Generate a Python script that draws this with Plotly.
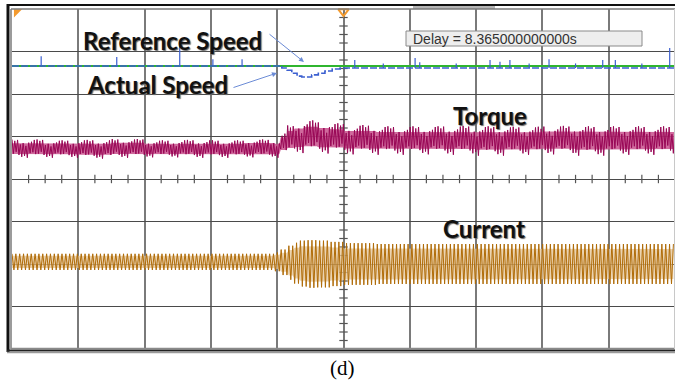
import numpy as np
import plotly.graph_objects as go

# Oscilloscope screen: 10 horizontal divisions, 8 vertical divisions
# ---- Speed traces (divisions) ----
ref_speed_x = [0.0, 10.0]
ref_speed_y = [6.66, 6.66]

act_speed_x = [0.0, 4.00, 4.07, 4.15, 4.22, 4.30, 4.37, 4.45, 4.52, 4.62, 4.72, 4.83, 4.95, 10.0]
act_speed_y = [6.66, 6.66, 6.61, 6.56, 6.49, 6.42, 6.40, 6.40, 6.45, 6.49, 6.54, 6.59, 6.61, 6.61]

spike_x = [0.44, 1.58, 2.53, 3.03, 3.47, 5.17, 5.60, 6.08, 6.15, 6.70, 7.21, 7.36, 7.51, 7.80,
           8.10, 8.50, 8.91, 9.10, 9.50, 9.92]
spike_y = [6.89, 6.87, 7.13, 6.82, 6.82, 6.80, 6.72, 6.85, 6.75, 6.72, 6.80, 6.76, 6.80, 6.72,
           6.82, 6.72, 6.80, 6.80, 6.72, 7.08]

# ---- Torque band (divisions), piecewise segments starting at torque_x ----
torque_x  = [0.0, 0.5, 1.0, 1.5, 2.0, 2.5, 3.0, 3.5, 3.95, 4.05, 4.15, 4.25, 4.40, 4.60,
             4.80, 5.00, 5.50, 6.00, 6.50, 7.00, 7.50, 8.00, 8.50, 9.00, 9.50]
torque_hi = [4.93, 4.91, 4.92, 4.94, 4.91, 4.92, 4.91, 4.93, 4.91, 5.08, 5.26, 5.33, 5.38, 5.35,
             5.31, 5.27, 5.24, 5.24, 5.25, 5.24, 5.23, 5.25, 5.24, 5.24, 5.24]
torque_lo = [4.50, 4.50, 4.48, 4.50, 4.51, 4.50, 4.50, 4.51, 4.50, 4.58, 4.60, 4.61, 4.62, 4.60,
             4.60, 4.58, 4.57, 4.58, 4.57, 4.55, 4.57, 4.58, 4.55, 4.57, 4.57]
torque_texture = [1.0, 0.55, 0.85, 0.35, 0.95, 0.7, 0.45, 0.9, 0.6, 0.8, 0.3, 1.0, 0.65, 0.5, 0.75,
                  0.4, 0.95, 0.6]
torque_half_period = 0.021

# ---- Current envelope (divisions), piecewise segments starting at current_x ----
current_x   = [0.0, 3.95, 4.05, 4.15, 4.25, 4.35, 4.45, 4.60, 4.80, 5.00, 5.50]
current_mid = [2.05, 2.05, 2.04, 2.03, 2.02, 2.01, 2.00, 2.00, 2.00, 2.00, 2.00]
current_amp = [0.19, 0.22, 0.30, 0.40, 0.48, 0.54, 0.56, 0.55, 0.52, 0.49, 0.47]
current_half_period = 0.029

# ---- build traces ----
def seg_index(xs, bounds):
    return np.clip(np.searchsorted(bounds, xs, side="right") - 1, 0, len(bounds) - 1)

# torque zigzag
tq_t = np.arange(0, 10.0001, torque_half_period)
ti = seg_index(tq_t, np.array(torque_x))
hi = np.array(torque_hi)[ti]
lo = np.array(torque_lo)[ti]
mid = (hi + lo) / 2
half = (hi - lo) / 2
sign = np.where(np.arange(len(tq_t)) % 2 == 0, 1, -1)
tex = np.array(torque_texture)[np.arange(len(tq_t)) % len(torque_texture)]
tq_y = mid + sign * tex * half

# current zigzag
cu_t = np.arange(0, 10.0001, current_half_period)
ci = seg_index(cu_t, np.array(current_x))
cmid = np.array(current_mid)[ci]
camp = np.array(current_amp)[ci]
csign = np.where(np.arange(len(cu_t)) % 2 == 0, 1, -1)
cu_y = cmid + csign * camp

# spikes
sx, sy = [], []
for x, y in zip(spike_x, spike_y):
    base = 6.66 if x < 4.0 else 6.61
    sx += [x, x, None]
    sy += [base, y, None]

fig = go.Figure()

# center-axis minor ticks
minor = np.arange(0.25, 10, 0.25)
minor = minor[np.abs(minor - np.round(minor)) > 0.05]
fig.add_trace(go.Scatter(x=minor, y=[4] * len(minor), mode="markers", hoverinfo="skip",
                         marker=dict(symbol="line-ns", size=6, line=dict(width=1.2, color="#555"))))
minor_y = np.arange(0.2, 8, 0.2)
minor_y = minor_y[np.abs(minor_y - np.round(minor_y)) > 0.05]
fig.add_trace(go.Scatter(x=[5] * len(minor_y), y=minor_y, mode="markers", hoverinfo="skip",
                         marker=dict(symbol="line-ew", size=6, line=dict(width=1.2, color="#555"))))

# torque band + trace
fig.add_trace(go.Scatter(x=tq_t, y=mid + 0.6 * half, mode="lines", line=dict(width=0), hoverinfo="skip"))
fig.add_trace(go.Scatter(x=tq_t, y=mid - 0.6 * half, mode="lines", line=dict(width=0),
                         fill="tonexty", fillcolor="rgba(200,80,140,0.85)", hoverinfo="skip"))
fig.add_trace(go.Scatter(x=tq_t, y=tq_y, mode="lines", line=dict(width=1, color="#980655")))

# current band + trace
fig.add_trace(go.Scatter(x=cu_t, y=cmid + 0.75 * camp, mode="lines", line=dict(width=0), hoverinfo="skip"))
fig.add_trace(go.Scatter(x=cu_t, y=cmid - 0.75 * camp, mode="lines", line=dict(width=0),
                         fill="tonexty", fillcolor="rgba(228,196,150,0.75)", hoverinfo="skip"))
fig.add_trace(go.Scatter(x=cu_t, y=cu_y, mode="lines", line=dict(width=1, color="#b06c08")))

# speeds
fig.add_trace(go.Scatter(x=ref_speed_x, y=ref_speed_y, mode="lines", line=dict(width=2, color="#2fb52f")))
fig.add_trace(go.Scatter(x=act_speed_x, y=act_speed_y, mode="lines", line_shape="hv",
                         line=dict(width=1.6, color="#3b5fd0", dash="7px,2px")))
fig.add_trace(go.Scatter(x=sx, y=sy, mode="lines", line=dict(width=1.2, color="#3b5fd0")))

# orange markers
fig.add_trace(go.Scatter(x=[0.07], y=[7.93], mode="markers", cliponaxis=False,
                         marker=dict(symbol="triangle-nw", size=9, color="#f39a2e")))
fig.add_trace(go.Scatter(x=[5.0], y=[7.94], mode="markers", cliponaxis=False,
                         marker=dict(symbol="triangle-down-open", size=9, color="#f39a2e",
                                     line=dict(width=2, color="#f39a2e"))))

W, H = 675, 383
L, R, T, B = 12, 0, 9, 34
pw, ph = W - L - R, H - T - B

def px(x):
    return (x - L) / pw

def py(y):
    return (H - B - y) / ph

shapes = [
    # top gray tab
    dict(type="rect", xref="paper", yref="paper", x0=px(413), x1=px(495), y0=py(9), y1=py(5),
         fillcolor="#b5b5b5", line=dict(width=0), layer="above"),
    # gray plot borders
    dict(type="line", xref="paper", yref="paper", x0=px(11), x1=px(11), y0=py(9), y1=py(349),
         line=dict(color="#7a7a7a", width=1.5)),
    dict(type="line", xref="paper", yref="paper", x0=px(11), x1=px(675), y0=py(9), y1=py(9),
         line=dict(color="#7a7a7a", width=1.5)),
    dict(type="line", xref="paper", yref="paper", x0=px(11), x1=px(675), y0=py(348.5), y1=py(348.5),
         line=dict(color="#8a8a8a", width=1.5)),
    dict(type="line", xref="paper", yref="paper", x0=px(674.5), x1=px(674.5), y0=py(9), y1=py(349),
         line=dict(color="#c8c8c8", width=1)),
    # black frame
    dict(type="line", xref="paper", yref="paper", x0=px(7), x1=px(675), y0=py(5), y1=py(5),
         line=dict(color="#111", width=2)),
    dict(type="line", xref="paper", yref="paper", x0=px(8), x1=px(8), y0=py(4), y1=py(352),
         line=dict(color="#111", width=3)),
    dict(type="line", xref="paper", yref="paper", x0=px(7), x1=px(675), y0=py(350.5), y1=py(350.5),
         line=dict(color="#222", width=2)),
    dict(type="line", xref="paper", yref="paper", x0=px(7), x1=px(675), y0=py(352.5), y1=py(352.5),
         line=dict(color="#9a9a9a", width=1.5)),
    # delay box
    dict(type="rect", xref="paper", yref="paper", x0=px(406), x1=px(642), y0=py(46), y1=py(31),
         fillcolor="#eeeeee", line=dict(color="#8a8a8a", width=1)),
]

label_font = dict(family="Lato", size=24, color="#111", weight="bold", shadow="1px 1px 1px #666")
annotations = [
    dict(x=(172 - L) / 66.3, y=(H - B - 40) / 42.5, xref="x", yref="y", text="Reference Speed",
         showarrow=False, font=label_font),
    dict(x=(157 - L) / 66.3, y=(H - B - 84) / 42.5, xref="x", yref="y", text="Actual Speed",
         showarrow=False, font=label_font),
    dict(x=(490 - L) / 66.3, y=(H - B - 115) / 42.5, xref="x", yref="y", text="Torque",
         showarrow=False, font=label_font),
    dict(x=(484 - L) / 66.3, y=(H - B - 228) / 42.5, xref="x", yref="y", text="Current",
         showarrow=False, font=label_font),
    dict(x=4.404, y=6.753, xref="x", yref="y", text="", showarrow=True, ax=-36, ay=-29,
         arrowhead=2, arrowsize=1, arrowwidth=1, arrowcolor="#6b8bd6"),
    dict(x=3.997, y=6.494, xref="x", yref="y", text="", showarrow=True, ax=-45, ay=15,
         arrowhead=2, arrowsize=1, arrowwidth=1, arrowcolor="#6b8bd6"),
    dict(x=px(411), y=py(38.5), xref="paper", yref="paper", xanchor="left", yanchor="middle",
         text="Delay = 8.365000000000s", showarrow=False,
         font=dict(family="Liberation Sans", size=14, color="#333")),
    dict(x=px(342), y=py(368), xref="paper", yref="paper", text="(d)", showarrow=False,
         xanchor="center", yanchor="middle",
         font=dict(family="Liberation Serif", size=21, color="#000")),
]

fig.update_layout(
    width=W, height=H, margin=dict(l=L, r=R, t=T, b=B),
    paper_bgcolor="white", plot_bgcolor="white", showlegend=False,
    shapes=shapes, annotations=annotations,
    xaxis=dict(range=[0, 10], dtick=1, tick0=0, showgrid=True, gridcolor="#7a7a7a", gridwidth=2,
               showticklabels=False, ticks="", zeroline=False, showline=False, fixedrange=True),
    yaxis=dict(range=[0, 8], dtick=1, tick0=0, showgrid=True, gridcolor="#4a4a4a", gridwidth=1.2,
               showticklabels=False, ticks="", zeroline=False, showline=False, fixedrange=True),
)

fig.write_html("out.html")
